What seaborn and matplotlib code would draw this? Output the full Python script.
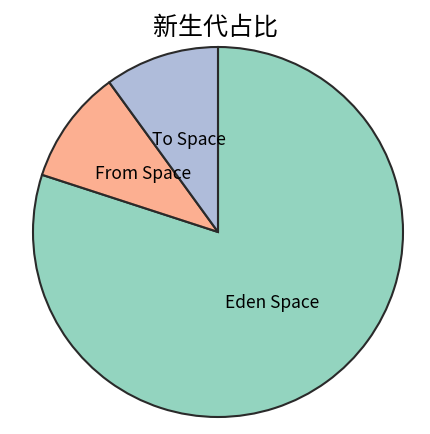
import matplotlib
matplotlib.use('Agg')
import matplotlib.pyplot as plt
import matplotlib.transforms as mtransforms
import seaborn as sns

# data
labels = ['Eden Space', 'From Space', 'To Space']
sizes = [80, 10, 10]

sns.set_style('white')
plt.rcParams['font.family'] = ['Noto Sans CJK SC', 'DejaVu Sans']
plt.rcParams['text.color'] = 'black'

# Set2 with 0.7 alpha, drawn on white
colors = [(*c, 0.7) for c in sns.color_palette('Set2', 3)]

fig = plt.figure(figsize=(4.31, 4.34), dpi=100)
ax = fig.add_axes([33 / 431, 17 / 434, 370 / 431, 370 / 434])

wedges, texts = ax.pie(sizes, labels=labels, colors=colors, startangle=90,
                       counterclock=False, labeldistance=0.5,
                       wedgeprops={'edgecolor': '#2a2a2a', 'linewidth': 1.5},
                       textprops={'fontsize': 12.5, 'ha': 'center',
                                  'va': 'center', 'color': 'black'})
# nudge labels up a little
shift = mtransforms.ScaledTranslation(0, 4 / 100, fig.dpi_scale_trans)
for t in texts:
    t.set_transform(t.get_transform() + shift)

ax.set_xlim(-1.0, 1.0)
ax.set_ylim(-1.0, 1.0)
ax.set_aspect('equal')

fig.suptitle('新生代占比', fontsize=18, y=0.967, color='black')

plt.savefig('out.png', dpi=100)
